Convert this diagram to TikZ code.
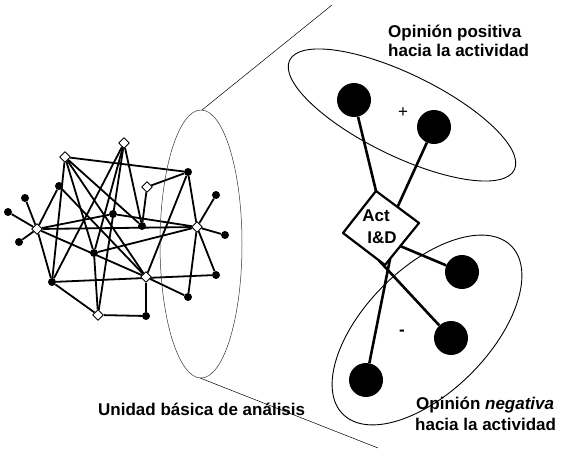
\documentclass[tikz,border=0pt]{standalone}
\usepackage{fontspec}
\setmainfont{Liberation Sans}
\usetikzlibrary{shapes.geometric,backgrounds,calc}

\tikzset{
  hub/.style={diamond,draw,fill=white,line width=0.9pt,inner sep=0pt,minimum size=11pt},
  actor/.style={circle,fill=black,inner sep=0pt,minimum size=8pt},
  tie/.style={line width=1.8pt},
  member/.style={circle,fill=black,inner sep=0pt,minimum size=34pt},
  link/.style={line width=2.6pt},
  lbl/.style={font=\fontsize{17}{19}\selectfont\bfseries,inner sep=0pt,anchor=base west},
}

\begin{document}
\begin{tikzpicture}[x=1pt,y=-1pt,line join=round]
\useasboundingbox (0,0) rectangle (563,452);
% the network
\node[hub] (D1) at (65,157) {};
\node[hub] (D2) at (124,143) {};
\node[hub] (D3) at (147,187) {};
\node[hub] (DL) at (37,229) {};
\node[hub] (DR) at (197,227) {};
\node[hub] (DC) at (146,277) {};
\node[hub] (DB) at (98,315) {};
\foreach \n/\p in {a/{188,172},b/{59,186},c/{25,198},d/{8,212},e/{19,242},
  f/{113,214},g/{142,226},h/{94,253},i/{52,282},j/{216,195},k/{225,235},
  l/{216,275},m/{188,297},n/{146,316}}
  \node[actor] (\n) at (\p) {};
\begin{scope}[on background layer]
\foreach \p/\q in {DL/c,DL/d,DL/e,DL/b,DL/i,DL/f,DL/DR,DL/DC,
  D1/a,D1/i,D1/h,D1/g,D1/DC,D2/i,D2/h,D2/DB,D2/g,D3/a,D3/g,
  a/DR,a/DC,b/DC,DR/j,DR/k,DR/l,DR/m,DR/h,DR/f,
  DC/m,DC/n,i/l,i/DB,DB/n,DB/h}
  \draw[tie] (\p) -- (\q);
\end{scope}
% the cone
\draw[line width=0.5pt,black!80] (201,244) ellipse [x radius=41pt, y radius=134pt];
\draw[line width=0.5pt] (202,110) -- (332,5);
\draw[line width=0.5pt] (200,378) -- (378,448);
% opinion groups
\draw[line width=0.9pt,rotate around={-26:(402,115)}] (402,115) ellipse [x radius=125pt, y radius=41pt];
\draw[line width=0.9pt,rotate around={45:(427,330)}] (427,330) ellipse [x radius=119pt, y radius=62pt];
\node[member] (P1) at (354,100) {};
\node[member] (P2) at (434,127) {};
\node[member] (N1) at (462,272) {};
\node[member] (N2) at (451,338) {};
\node[member] (N3) at (366,380) {};
\node[font=\fontsize{17}{19}\selectfont] (plus) at (403,113) {+};
\node[font=\fontsize{17}{19}\selectfont\bfseries] (minus) at (402,333) {-};
% the activity
\coordinate (actT) at (376,191);
\coordinate (actR) at (419,223);
\coordinate (actB) at (385,265);
\coordinate (actL) at (343,233);
\coordinate (inP2) at ($(actT)!0.5!(actR)$);
\coordinate (outN1) at ($(actR)!0.55!(actB)$);
\coordinate (outN2) at ($(actL)!0.85!(actB)$);
\coordinate (outN3) at ($(actR)!0.85!(actB)$);
\begin{scope}[on background layer]
\draw[link] (P1) -- (actT);
\draw[link] (P2) -- (inP2);
\draw[link] (outN1) -- (N1);
\draw[link] (outN2) -- (N2);
\draw[link] (outN3) -- (N3);
\end{scope}
\draw[line width=2.2pt,fill=white] (actT) -- (actR) -- (actB) -- (actL) -- cycle;
\node[lbl,anchor=center] (act1) at (376,216) {Act};
\node[lbl,anchor=center] (act2) at (382,238) {I\&D};
% labels
\node[lbl] (pos1) at (388,37.5) {Opinión positiva};
\node[lbl] (pos2) at (388,57) {hacia la actividad};
\node[lbl] (neg1) at (416,409) {Opinión \textit{negativa}};
\node[lbl] (neg2) at (415,430) {hacia la actividad};
\node[lbl] (unit) at (98,415) {Unidad básica de análisis};
\end{tikzpicture}
\end{document}
